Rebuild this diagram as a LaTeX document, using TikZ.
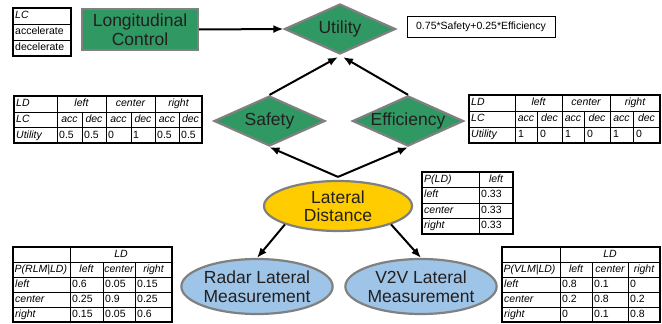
\documentclass[tikz,border=0pt]{standalone}
\usepackage{fontspec}
\setmainfont{Liberation Sans}
\usetikzlibrary{shapes.geometric,arrows.meta}
\definecolor{ngreen}{RGB}{48,152,98}
\definecolor{ngray}{RGB}{128,128,128}
\definecolor{nyellow}{RGB}{255,204,0}
\definecolor{nblue}{RGB}{158,197,232}
\definecolor{ntext}{RGB}{35,31,32}
\newcommand\bigf{\fontsize{17.5}{18.5}\selectfont}
\newcommand\tabf{\fontsize{10.5}{12}\selectfont}
\tikzset{
  mainnode/.style={draw=ngray, line width=2.2pt, text=ntext, font=\bigf, align=center, inner sep=0pt},
  gbox/.style={mainnode, rectangle, fill=ngreen, minimum width=116pt, minimum height=41pt},
  gdia/.style={mainnode, diamond, fill=ngreen, shape aspect=2.2, minimum width=111pt, minimum height=50pt},
  yell/.style={mainnode, ellipse, fill=nyellow, minimum width=148pt, minimum height=50pt},
  bell/.style={mainnode, ellipse, fill=nblue, minimum width=148pt, minimum height=55pt},
  arr/.style={line width=2pt, -{Latex[length=10pt,width=8pt]}},
  tl/.style={font=\tabf, inner sep=0pt, text height=7.6pt, text depth=2.2pt, anchor=west},
  tc/.style={tl, anchor=center},
  ti/.style={tl, font=\tabf\itshape},
  tci/.style={tc, font=\tabf\itshape},
  outer/.style={line width=1.4pt},
  inner/.style={line width=0.75pt}
}
\begin{document}
\begin{tikzpicture}[x=1pt,y=-1pt]
\useasboundingbox (0,0) rectangle (662,324);

% ---------- LC table ----------
\draw[inner] (13,24) -- (71,24) (13,40) -- (71,40);
\draw[outer] (13,8) rectangle (71,56);
\node[ti] (lc1) at (15,16) {LC};
\node[tl] (lc2) at (15,32) {accelerate};
\node[tl] (lc3) at (15,48) {decelerate};

% ---------- formula ----------
\draw[line width=1pt] (407,16) rectangle (555,37);
\node[tc] (formula) at (481,26.5) {0.75*Safety+0.25*Efficiency};

% ---------- Safety table ----------
\draw[inner] (14,112) -- (202,112) (14,127.5) -- (202,127.5);
\foreach \x in {57,106,155} \draw[inner] (\x,96) -- (\x,143);
\foreach \x in {82,131,179} \draw[inner] (\x,112) -- (\x,143);
\draw[outer] (14,96) rectangle (202,143);
\node[ti] (sa-ld) at (16,104) {LD};
\foreach \t/\x [count=\i] in {left/81.5,center/130.5,right/178.5}
  \node[tci] (sa-h\i) at (\x,104) {\t};
\node[ti] (sa-lc) at (16,120) {LC};
\foreach \t/\x [count=\i] in {acc/69.5,dec/94,acc/118.5,dec/143,acc/167,dec/190.5}
  \node[tci] (sa-c\i) at (\x,120) {\t};
\node[ti] (sa-u) at (16,135.5) {Utility};
\foreach \t/\x [count=\i] in {0.5/59,0.5/84,0/108,1/133,0.5/157,0.5/181}
  \node[tl] (sa-v\i) at (\x,135.5) {\t};

% ---------- Efficiency table ----------
\draw[inner] (469,111) -- (660,111) (469,127) -- (660,127);
\foreach \x in {515,562,610} \draw[inner] (\x,95) -- (\x,143);
\foreach \x in {537,584,633} \draw[inner] (\x,111) -- (\x,143);
\draw[outer] (469,95) rectangle (660,143);
\node[ti] (ef-ld) at (471,103) {LD};
\foreach \t/\x [count=\i] in {left/538.5,center/586,right/635}
  \node[tci] (ef-h\i) at (\x,103) {\t};
\node[ti] (ef-lc) at (471,119) {LC};
\foreach \t/\x [count=\i] in {acc/526,dec/549.5,acc/573,dec/597,acc/621.5,dec/646.5}
  \node[tci] (ef-c\i) at (\x,119) {\t};
\node[ti] (ef-u) at (471,135) {Utility};
\foreach \t/\x [count=\i] in {1/518,0/540,1/565,0/587,1/613,0/636}
  \node[tl] (ef-v\i) at (\x,135) {\t};

% ---------- P(LD) table ----------
\draw[inner] (479,172) -- (479,234);
\foreach \y in {187.5,203,218.5} \draw[inner] (422,\y) -- (513,\y);
\draw[outer] (422,172) rectangle (513,234);
\node[ti] (pld-h) at (424,179.75) {P(LD)};
\node[tci] (pld-l) at (496,179.75) {left};
\foreach \t/\y [count=\i] in {left/195.25,center/210.75,right/226.25}{
  \node[ti] (pld-r\i) at (424,\y) {\t};
  \node[tl] (pld-v\i) at (481,\y) {0.33};
}

% ---------- RLM table ----------
\draw[inner] (70,247) -- (70,322);
\foreach \x in {103,135} \draw[inner] (\x,262) -- (\x,322);
\foreach \y in {262,277,292,307} \draw[inner] (13,\y) -- (172,\y);
\draw[outer] (13,247) rectangle (172,322);
\node[tci] (rl-ld) at (121,254.5) {LD};
\node[ti] (rl-p) at (14.5,269.5) {P(RLM|LD)};
\foreach \t/\x [count=\i] in {left/86.5,center/119,right/153.5}
  \node[tci] (rl-h\i) at (\x,269.5) {\t};
\foreach \t/\a/\b/\c/\y [count=\i] in {left/0.6/0.05/0.15/284.5,center/0.25/0.9/0.25/299.5,right/0.15/0.05/0.6/314.5}{
  \node[ti] (rl-r\i) at (15,\y) {\t};
  \node[tl] (rl-a\i) at (72,\y) {\a};
  \node[tl] (rl-b\i) at (105,\y) {\b};
  \node[tl] (rl-c\i) at (137,\y) {\c};
}

% ---------- VLM table ----------
\draw[inner] (560,247) -- (560,322);
\foreach \x in {592,628} \draw[inner] (\x,262) -- (\x,322);
\foreach \y in {262,277,292,307} \draw[inner] (502,\y) -- (660,\y);
\draw[outer] (502,247) rectangle (660,322);
\node[tci] (vl-ld) at (610,254.5) {LD};
\node[ti] (vl-p) at (503.5,269.5) {P(VLM|LD)};
\foreach \t/\x [count=\i] in {left/576,center/610,right/644}
  \node[tci] (vl-h\i) at (\x,269.5) {\t};
\foreach \t/\a/\b/\c/\y [count=\i] in {left/0.8/0.1/0/284.5,center/0.2/0.8/0.2/299.5,right/0/0.1/0.8/314.5}{
  \node[ti] (vl-r\i) at (504,\y) {\t};
  \node[tl] (vl-a\i) at (562,\y) {\a};
  \node[tl] (vl-b\i) at (594,\y) {\b};
  \node[tl] (vl-c\i) at (630,\y) {\c};
}

% ---------- main nodes ----------
\node[gbox] (lon) at (140,29.5) {Longitudinal\\Control};
\node[gdia] (util) at (340,29) {Utility};
\node[gdia] (safe) at (269.5,121) {Safety};
\node[gdia] (eff) at (408,121) {Efficiency};
\node[yell] (ld) at (338,206) {Lateral\\Distance};
\node[bell] (rlm) at (257,286.5) {Radar Lateral\\Measurement};
\node[bell] (vlm) at (421,286.5) {V2V Lateral\\Measurement};

% ---------- arrows ----------
\draw[arr] (lon.east) -- (util.west);
\draw[arr] (safe.north) -- ([xshift=-2pt,yshift=-2pt]util.south);
\draw[arr] (eff.north) -- ([xshift=3pt,yshift=-2pt]util.south);
\draw[arr] ([yshift=3pt]ld.north) -- (safe.south);
\draw[arr] ([yshift=3pt]ld.north) -- (eff.south);
\draw[arr] (ld.south west) -- (rlm.north);
\draw[arr] (ld.south east) -- (vlm.north);
\end{tikzpicture}
\end{document}
